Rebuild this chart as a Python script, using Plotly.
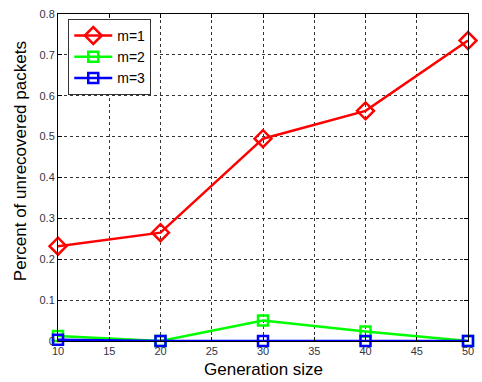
import plotly.graph_objects as go

gen_size = [10, 20, 30, 40, 50]
m1 = [0.232, 0.265, 0.495, 0.563, 0.735]
m2 = [0.012, 0.0, 0.050, 0.023, 0.0]
m3 = [0.003, 0.0, 0.0, 0.0, 0.0]

x_ticks = [10, 15, 20, 25, 30, 35, 40, 45, 50]
y_ticks = [0, 0.1, 0.2, 0.3, 0.4, 0.5, 0.6, 0.7, 0.8]
y_labels = ["0", "0.1", "0.2", "0.3", "0.4", "0.5", "0.6", "0.7", "0.8"]

fig = go.Figure()
fig.add_trace(go.Scatter(x=gen_size, y=m1, name="m=1", mode="lines+markers",
                         line=dict(color="#ff0000", width=2.5),
                         marker=dict(symbol="diamond-open", size=13, color="#ff0000", line=dict(width=2.5)),
                         cliponaxis=False))
fig.add_trace(go.Scatter(x=gen_size, y=m2, name="m=2", mode="lines+markers",
                         line=dict(color="#00ff00", width=2.5),
                         marker=dict(symbol="square-open", size=10, color="#00ff00", line=dict(width=2.5)),
                         cliponaxis=False))
fig.add_trace(go.Scatter(x=gen_size, y=m3, name="m=3", mode="lines+markers",
                         line=dict(color="#0000ff", width=2.5),
                         marker=dict(symbol="square-open", size=10, color="#0000ff", line=dict(width=2.5)),
                         cliponaxis=False))

axis_common = dict(showline=True, linecolor="black", linewidth=1, mirror="ticks",
                   ticks="inside", ticklen=4, tickcolor="black",
                   showgrid=True, gridcolor="#333333", griddash="dot", gridwidth=1,
                   zeroline=False, tickfont=dict(family="Liberation Sans, Arial", size=11, color="#333344"))

fig.update_layout(
    width=482, height=382,
    margin=dict(l=58, r=8, t=12, b=41),
    paper_bgcolor="white", plot_bgcolor="white",
    font=dict(family="Liberation Sans, Arial", color="black"),
    xaxis=dict(range=[10, 50], tickvals=x_ticks, **axis_common),
    yaxis=dict(range=[0, 0.8], tickvals=y_ticks, ticktext=y_labels, **axis_common),
    legend=dict(x=0.025, y=0.985, xanchor="left", yanchor="top",
                bgcolor="white", bordercolor="#333333", borderwidth=1,
                font=dict(size=14, color="black"), tracegroupgap=0, itemwidth=38),
    showlegend=True,
    annotations=[
        dict(text="Generation size", xref="paper", yref="paper", x=0.5, y=0,
             xanchor="center", yanchor="middle", yshift=-28, showarrow=False,
             font=dict(size=17, color="black")),
        dict(text="Percent of unrecovered packets", xref="paper", yref="paper", x=0, y=0.55,
             xanchor="center", yanchor="middle", xshift=-38, textangle=-90, showarrow=False,
             font=dict(size=17, color="black")),
    ],
)

fig.write_html("out.html")
